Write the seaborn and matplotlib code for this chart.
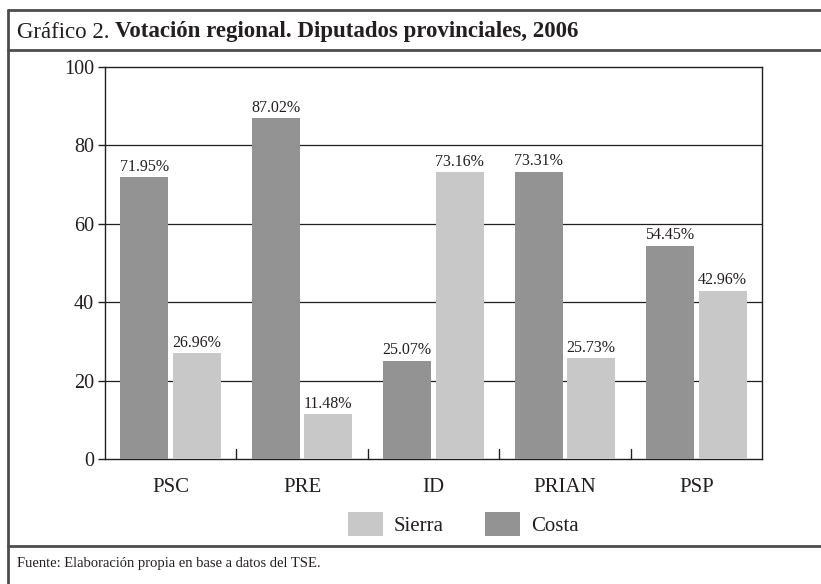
import matplotlib
matplotlib.use("Agg")
import matplotlib.pyplot as plt
import seaborn as sns
import pandas as pd
from matplotlib.patches import Patch
from matplotlib.lines import Line2D

categories = ["PSC", "PRE", "ID", "PRIAN", "PSP"]
costa = [71.95, 87.02, 25.07, 73.31, 54.45]
sierra = [26.96, 11.48, 73.16, 25.73, 42.96]
yticks = [0, 20, 40, 60, 80, 100]

sns.set_theme(style="white")
plt.rcParams["font.family"] = ["Liberation Serif", "DejaVu Serif"]

df = pd.DataFrame({
    "partido": categories * 2,
    "region": ["Costa"] * len(categories) + ["Sierra"] * len(categories),
    "valor": costa + sierra,
})

col_costa = "#939393"
col_sierra = "#c8c8c8"
txt = "#231f20"

fig = plt.figure(figsize=(8.21, 5.84), dpi=100)
W, H = 821, 584
ax = fig.add_axes([105 / W, 1 - 459 / H, (762 - 105) / W, (459 - 67) / H])

sns.barplot(data=df, x="partido", y="valor", hue="region", order=categories,
            hue_order=["Costa", "Sierra"],
            palette={"Costa": col_costa, "Sierra": col_sierra},
            width=0.8, gap=0.085, ax=ax, legend=False, saturation=1,
            edgecolor="none", linewidth=0, zorder=3)

ax.set_ylim(0, 100)
ax.set_xlim(-0.5, len(categories) - 0.5)
ax.set_yticks(yticks)
ax.set_yticklabels([str(v) for v in yticks], fontsize=14.5, color=txt)
ax.set_xticks(range(len(categories)))
ax.set_xticklabels(categories, fontsize=15, color=txt)
ax.tick_params(axis="x", length=0, pad=14)
ax.tick_params(axis="y", length=5, width=1, direction="out", pad=3, color=txt, left=True)
ax.set_xlabel("")
ax.set_ylabel("")
for y in yticks[1:-1]:
    ax.axhline(y, color=txt, lw=0.9, zorder=1)
for b in [0.5, 1.5, 2.5, 3.5]:
    ax.plot([b, b], [0, 2.5], color=txt, lw=1, zorder=4, clip_on=False)
for s in ax.spines.values():
    s.set_visible(True)
    s.set_color(txt)
    s.set_linewidth(1)

for cont in ax.containers:
    for bar in cont:
        h = bar.get_height()
        ax.text(bar.get_x() + bar.get_width() / 2, h + 0.6, f"{h:.2f}%",
                ha="center", va="bottom", fontsize=11.5, color=txt, zorder=5)

handles = [Patch(facecolor=col_sierra, edgecolor="none", label="Sierra"),
           Patch(facecolor=col_costa, edgecolor="none", label="Costa")]
fig.legend(handles=handles, loc="center", bbox_to_anchor=(463 / W, 1 - 524 / H),
           ncol=2, frameon=False, fontsize=15, handlelength=1.7, handleheight=1.4,
           columnspacing=2.0, handletextpad=0.5, labelcolor=txt)

# frame lines
fc = "#4d4d4d"
def hline(y, x0=8, x1=821, lw=2):
    fig.add_artist(Line2D([x0 / W, x1 / W], [1 - y / H, 1 - y / H], color=fc, lw=lw))
hline(10)
hline(50)
hline(546)
fig.add_artist(Line2D([8 / W, 8 / W], [1 - 10 / H, 0], color=fc, lw=2))

# title
t1 = fig.text(17 / W, 1 - 32 / H, "Gráfico 2. ", fontsize=16.5, color=txt, va="center", ha="left")
fig.canvas.draw()
r = fig.canvas.get_renderer()
bb = t1.get_window_extent(r)
fig.text(bb.x1 / W, 1 - 32 / H, "Votación regional. Diputados provinciales, 2006",
         fontsize=16.5, fontweight="bold", color=txt, va="center", ha="left")

fig.text(17 / W, 1 - 563 / H, "Fuente: Elaboración propia en base a datos del TSE.",
         fontsize=10.5, color=txt, va="center", ha="left")

fig.savefig("out.png", dpi=100)
